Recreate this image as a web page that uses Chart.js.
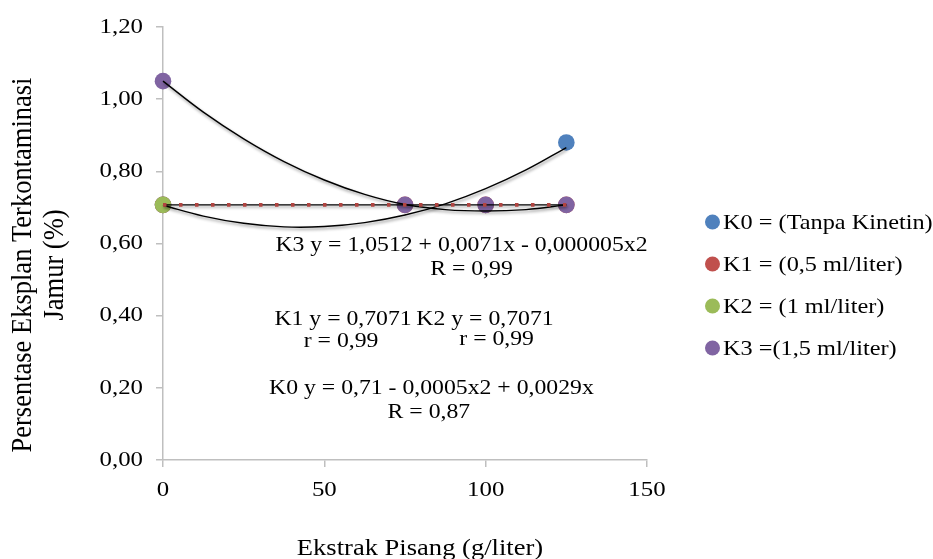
<!DOCTYPE html>
<html><head><meta charset="utf-8">
<script src="https://cdn.jsdelivr.net/npm/chart.js@4.4.1/dist/chart.umd.min.js"></script>
<style>html,body{margin:0;padding:0;background:#fff}</style>
</head><body>
<canvas id="c" width="933" height="559"></canvas>
<script>
// ---- data ----
const seriesNames = ['K0 = (Tanpa Kinetin)', 'K1 = (0,5 ml/liter)', 'K2 = (1 ml/liter)', 'K3 =(1,5 ml/liter)'];
const k0X = [0, 125];
const k0Y = [0.7071, 0.88];
const k1X = [0, 75, 100, 125];
const k1Y = [0.7071, 0.7071, 0.7071, 0.7071];
const k2X = [0];
const k2Y = [0.7071];
const k3X = [0, 75, 100, 125];
const k3Y = [1.05, 0.7071, 0.7071, 0.7071];
// trendline curves
const trendX = [0, 12.5, 25, 37.5, 50, 62.5, 75, 87.5, 100, 112.5, 125];
const k0Trend = [0.706, 0.676, 0.656, 0.646, 0.647, 0.658, 0.679, 0.710, 0.752, 0.804, 0.866];
const k3Trend = [1.050, 0.964, 0.890, 0.827, 0.776, 0.736, 0.708, 0.694, 0.690, 0.694, 0.707];
const flatTrendX = [0, 125];
const k1Trend = [0.7071, 0.7071];
const k2Trend = [0.7071, 0.7071];
const xTickLabels = ['0', '50', '100', '150'];
const yTickLabels = ['0,00', '0,20', '0,40', '0,60', '0,80', '1,00', '1,20'];
const xTitle = 'Ekstrak Pisang (g/liter)';
const yTitle = ['Persentase Eksplan Terkontaminasi', 'Jamur (%)'];
const equationTexts = [
  'K3 y = 1,0512 + 0,0071x - 0,000005x2', 'R = 0,99',
  'K1 y = 0,7071', 'r = 0,99',
  'K2 y = 0,7071', 'r = 0,99',
  'K0 y = 0,71 - 0,0005x2 + 0,0029x', 'R = 0,87'
];
// ---- styling ----
const colors = ['#4F81BD', '#C0504D', '#9BBB59', '#8064A2'];
const FONT = "'Liberation Serif','Times New Roman',serif";
const SX = 1.13;
// annotation anchors in data coordinates (center x, baseline y)
const eqAnchors = [[92.5,0.579],[95.6,0.513],[55.8,0.374],[55.2,0.314],[99.8,0.374],[103.4,0.319],[83.2,0.183],[82.4,0.116]];

const pts = (xs, ys) => xs.map((x, i) => ({x: x, y: ys[i]}));

function stretchText(ctx, text, x, y, align, baseline, size) {
  ctx.save();
  ctx.translate(x, y);
  ctx.scale(SX, 1);
  ctx.font = size + 'px ' + FONT;
  ctx.textAlign = align;
  ctx.textBaseline = baseline;
  ctx.fillStyle = '#000';
  ctx.fillText(text, 0, 0);
  ctx.restore();
}

const shadowPlugin = {
  id: 'shadow',
  beforeDatasetDraw(chart, args) {
    const ds = chart.data.datasets[args.index];
    if (ds.shadow) {
      const ctx = chart.ctx;
      ctx.save();
      ctx.shadowColor = 'rgba(0,0,0,0.45)';
      ctx.shadowBlur = 3;
      ctx.shadowOffsetX = 1;
      ctx.shadowOffsetY = 2;
    }
  },
  afterDatasetDraw(chart, args) {
    const ds = chart.data.datasets[args.index];
    if (ds.shadow) chart.ctx.restore();
  }
};

const textPlugin = {
  id: 'texts',
  afterDraw(chart) {
    const ctx = chart.ctx;
    const xs = chart.scales.x, ys = chart.scales.y;
    xs.ticks.forEach((t, i) => {
      stretchText(ctx, xTickLabels[i], xs.getPixelForValue(t.value), 496, 'center', 'alphabetic', 22);
    });
    ys.ticks.forEach((t, i) => {
      stretchText(ctx, yTickLabels[i], 143, ys.getPixelForValue(t.value), 'right', 'middle', 22);
    });
    stretchText(ctx, xTitle, 420, 555, 'center', 'alphabetic', 23.5);
    const lineX = [23, 55];
    yTitle.forEach((line, i) => {
      ctx.save();
      ctx.translate(lineX[i], 265);
      ctx.scale(SX, 1);
      ctx.rotate(-Math.PI / 2);
      ctx.font = '26.5px ' + FONT;
      ctx.textAlign = 'center';
      ctx.textBaseline = 'middle';
      ctx.fillStyle = '#000';
      ctx.fillText(line, 0, 0);
      ctx.restore();
    });
    equationTexts.forEach((t, i) => {
      const a = eqAnchors[i];
      stretchText(ctx, t, xs.getPixelForValue(a[0]), ys.getPixelForValue(a[1]), 'center', 'alphabetic', 21);
    });
    seriesNames.forEach((name, i) => {
      const cy = 222 + i * 42;
      ctx.save();
      ctx.beginPath();
      ctx.arc(712.5, cy, 7.5, 0, Math.PI * 2);
      ctx.fillStyle = colors[i];
      ctx.fill();
      ctx.restore();
      stretchText(ctx, name, 723, cy + 7, 'left', 'alphabetic', 21.5);
    });
  }
};

const markerDs = (label, data, color, order) => ({
  label: label, data: data, backgroundColor: color, borderColor: color,
  pointRadius: 8.3, pointHoverRadius: 8.3, borderWidth: 0, showLine: false, order: order, clip: false
});
const trendDs = (label, data) => ({
  label: label, data: data, showLine: true, pointRadius: 0, borderColor: '#000',
  borderWidth: 1.4, tension: 0.4, fill: false, shadow: true, order: 1, clip: false
});

new Chart(document.getElementById('c'), {
  type: 'scatter',
  data: {
    datasets: [
      markerDs(seriesNames[0], pts(k0X, k0Y), colors[0], 5),
      markerDs(seriesNames[1], pts(k1X, k1Y), colors[1], 4),
      markerDs(seriesNames[2], pts(k2X, k2Y), colors[2], 3),
      markerDs(seriesNames[3], pts(k3X, k3Y), colors[3], 2),
      trendDs('K0 trend', pts(trendX, k0Trend)),
      trendDs('K2 trend', pts(flatTrendX, k2Trend)),
      trendDs('K3 trend', pts(trendX, k3Trend)),
      {label: 'K1 trend', data: pts(flatTrendX, k1Trend), showLine: true, pointRadius: 0,
       borderColor: '#B04440', borderWidth: 3.6, borderDash: [3.5, 12.5], borderCapStyle: 'butt', order: 0, clip: false}
    ]
  },
  options: {
    responsive: false,
    animation: false,
    events: [],
    layout: {padding: {left: 0, top: 27, right: 286, bottom: 0}},
    plugins: {legend: {display: false}, tooltip: {enabled: false}},
    scales: {
      x: {
        type: 'linear', min: 0, max: 150,
        ticks: {stepSize: 50, display: false},
        grid: {display: true, drawOnChartArea: false, drawTicks: true, tickLength: 7, color: '#BFBFBF', lineWidth: 1.5},
        border: {display: true, color: '#BFBFBF', width: 1.5},
        afterFit(s) { s.height = 99; }
      },
      y: {
        type: 'linear', min: 0, max: 1.2,
        ticks: {stepSize: 0.2, display: false},
        grid: {display: true, drawOnChartArea: false, drawTicks: true, tickLength: 7, color: '#BFBFBF', lineWidth: 1.5},
        border: {display: true, color: '#BFBFBF', width: 1.5},
        afterFit(s) { s.width = 163; }
      }
    }
  },
  plugins: [shadowPlugin, textPlugin]
});
</script>
</body></html>
